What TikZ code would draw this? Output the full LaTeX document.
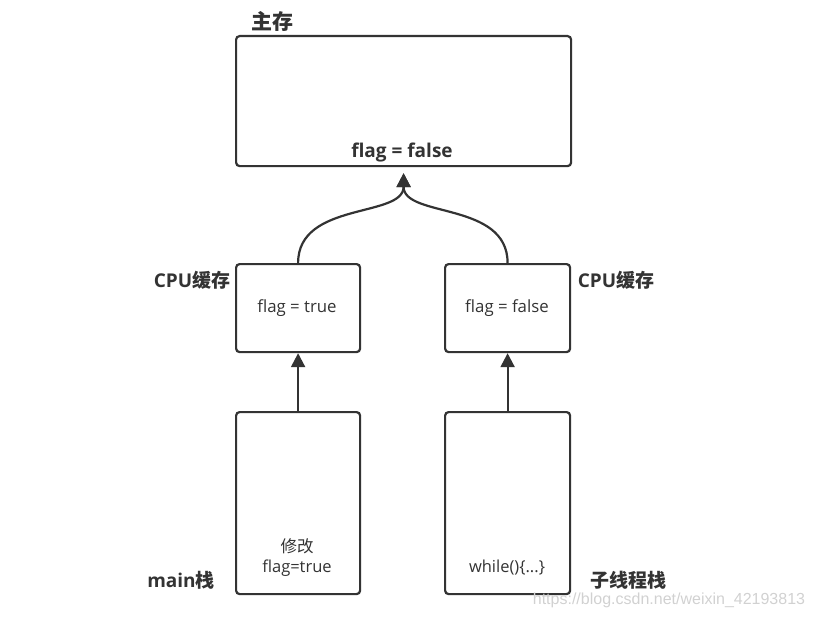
\documentclass[tikz,border=0pt]{standalone}
\usepackage{fontspec}
\setmainfont{Open Sans}
\newfontfamily\cjk{Noto Sans CJK SC}
\newfontfamily\wmfont{Liberation Sans}
\usetikzlibrary{arrows.meta,calc}
\definecolor{ink}{HTML}{333333}
\tikzset{
  x=1pt, y=-1pt,
  box/.style={draw=ink, line width=2.2pt, rounded corners=3.5pt, inner sep=0pt, anchor=north west},
  lbl/.style={text=ink, inner sep=0pt, font=\bfseries\fontsize{19}{22}\selectfont},
  con/.style={draw=ink, line width=2.2pt, -{Triangle[length=14pt,width=14pt]}},
  txt/.style={text=ink, inner sep=0pt, font=\fontsize{16.8}{20}\selectfont}
}
\begin{document}
\begin{tikzpicture}
\useasboundingbox (0,0) rectangle (815,618);
% boxes
\node[box, minimum width=335pt, minimum height=130pt] (mem) at (235,35) {};
\node[box, minimum width=124pt, minimum height=88pt] (cpuL) at (235,263) {};
\node[box, minimum width=125pt, minimum height=88pt] (cpuR) at (444,263) {};
\node[box, minimum width=124pt, minimum height=182pt] (stkL) at (235,411) {};
\node[box, minimum width=125pt, minimum height=182pt] (stkR) at (444,411) {};
% labels
\node[lbl, font=\bfseries\cjk\fontsize{21}{24}\selectfont] (lmem) at (272,21) {主存};
\node[lbl] (vmem) at (402,153) {flag = false};
\node[lbl] (lcpuL) at (192,280) {CPU{\cjk 缓存}};
\node[lbl] (lcpuR) at (616,280) {CPU{\cjk 缓存}};
\node[txt] (vcpuL) at (297,308) {flag = true};
\node[txt] (vcpuR) at (507,308) {flag = false};
\node[txt, align=center, font=\fontsize{16.5}{20}\selectfont] (vstkL) at (297,558) {{\cjk 修改}\\flag=true};
\node[txt, font=\fontsize{16.5}{20}\selectfont] (vstkR) at (507,568) {while()\{...\}};
\node[lbl] (lstkL) at (181,580) {main{\cjk 栈}};
\node[lbl, font=\bfseries\cjk\fontsize{19}{22}\selectfont] (lstkR) at (628,580) {子线程栈};
\node[inner sep=0pt, text=black!18, font=\wmfont\fontsize{16}{18}\selectfont] (wm) at (669,600) {https://blog.csdn.net/weixin\_42193813};
% connectors
\coordinate (memtip) at ($(mem.south)+(0,6)$);
\draw[con] (cpuL.north) .. controls ++(0,-62) and ($(memtip)+(0,45)$) .. (memtip);
\draw[con] (cpuR.north) .. controls ++(0,-62) and ($(memtip)+(0,45)$) .. (memtip);
\draw[con] (stkL.north) -- (cpuL.south);
\draw[con] (stkR.north) -- (cpuR.south);
\end{tikzpicture}
\end{document}
